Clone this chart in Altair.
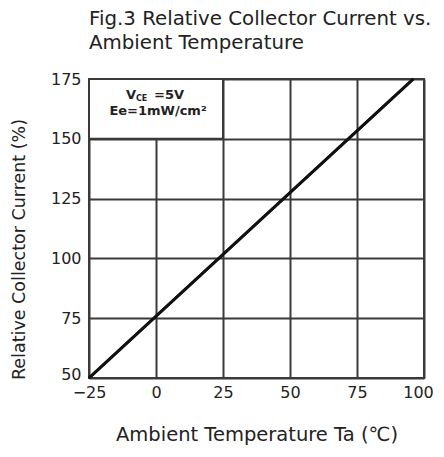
import altair as alt
import pandas as pd

temps = [-25, 96]
currents = [50, 175]
x_ticks = [-25, 0, 25, 50, 75, 100]
y_ticks = [50, 75, 100, 125, 150, 175]

line_df = pd.DataFrame({"t": temps, "c": currents})

xs = alt.Scale(domain=[-25, 100], nice=False)
ys = alt.Scale(domain=[50, 175], nice=False)

FONT = "DejaVu Sans"
GRID = "#3a3a3a"
TXT = "#222"

line = alt.Chart(line_df).mark_line(color="#111", strokeWidth=3).encode(
    x=alt.X("t:Q", scale=xs,
            axis=alt.Axis(values=x_ticks, title="Ambient Temperature Ta (\u2103)",
                          grid=True, gridColor=GRID, gridWidth=2, gridOpacity=1,
                          domain=False, ticks=False, labelFontSize=16, labelPadding=6,
                          labelFlush=False, labelOverlap=False,
                          labelOffset={"condition": {"test": "datum.value == 100", "value": -6},
                                       "value": 0},
                          labelColor=TXT, titleFontSize=19.5, titleFontWeight="normal",
                          titleColor=TXT, titlePadding=25, labelFont=FONT, titleFont=FONT)),
    y=alt.Y("c:Q", scale=ys,
            axis=alt.Axis(values=y_ticks, title="Relative Collector Current (%)",
                          grid=True, gridColor=GRID, gridWidth=2, gridOpacity=1,
                          domain=False, ticks=False, labelFontSize=16, labelPadding=8,
                          labelOffset={"condition": {"test": "datum.value == 50", "value": -4},
                                       "value": 0},
                          labelColor=TXT, titleFontSize=17.5, titleFontWeight="normal",
                          titleColor=TXT, titlePadding=22, titleY=170,
                          labelFont=FONT, titleFont=FONT)),
)

box = alt.Chart(pd.DataFrame({"a": [0]})).mark_rect(
    fill="white", stroke=GRID, strokeWidth=2
).encode(
    x=alt.datum(-25, scale=xs), x2=alt.datum(25),
    y=alt.datum(150, scale=ys), y2=alt.datum(175),
)

base_txt = alt.Chart(pd.DataFrame({"a": [0]}))
t_v = base_txt.mark_text(font=FONT, fontSize=13, fontWeight="bold", color=TXT,
                         align="right", dx=-20).encode(
    x=alt.datum(0, scale=xs), y=alt.datum(168.3, scale=ys), text=alt.value("V"))
t_ce = base_txt.mark_text(font=FONT, fontSize=8, fontWeight="bold", color=TXT,
                          align="left", dx=-20, dy=4).encode(
    x=alt.datum(0, scale=xs), y=alt.datum(168.3, scale=ys), text=alt.value("CE"))
t_5v = base_txt.mark_text(font=FONT, fontSize=13, fontWeight="bold", color=TXT,
                          align="left", dx=-2).encode(
    x=alt.datum(0, scale=xs), y=alt.datum(168.3, scale=ys), text=alt.value("=5V"))
t_ee = base_txt.mark_text(font=FONT, fontSize=13, fontWeight="bold", color=TXT,
                          align="center", dx=2).encode(
    x=alt.datum(0, scale=xs), y=alt.datum(161.6, scale=ys), text=alt.value("Ee=1mW/cm\u00b2"))

chart = alt.layer(line, box, line, t_v, t_ce, t_5v, t_ee).properties(
    width=335, height=299,
    autosize=alt.AutoSizeParams(type="none"),
    padding={"left": 81, "top": 71, "right": 12, "bottom": 71},
    title=alt.Title(["Fig.3 Relative Collector Current vs.", "Ambient Temperature"],
                    anchor="start", frame="group", fontSize=19.8, fontWeight="normal",
                    font=FONT, color=TXT, lineHeight=24, offset=18),
).configure_view(stroke=GRID, strokeWidth=2)

chart.save("out.html", embed_options={"renderer": "svg", "actions": False})
